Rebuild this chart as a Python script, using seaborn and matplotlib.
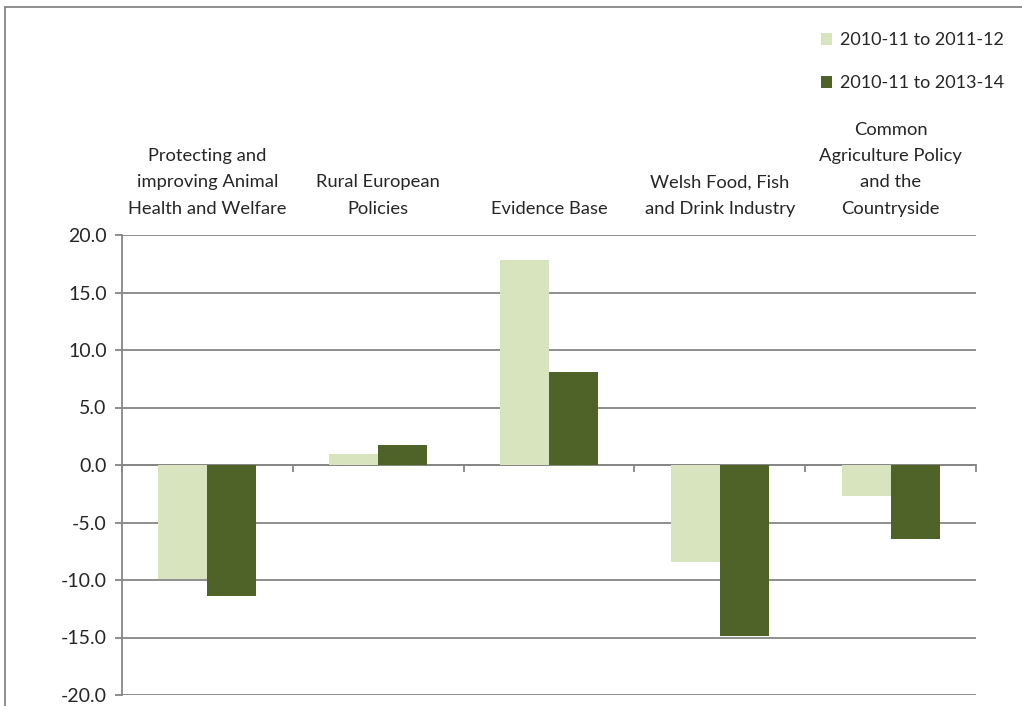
import pandas as pd
import matplotlib.pyplot as plt
import seaborn as sns
from matplotlib.lines import Line2D

# ===============================
# Data
# ===============================
categories = [
    "Protecting and\nimproving Animal\nHealth and Welfare",
    "Rural European\nPolicies",
    "Evidence Base",
    "Welsh Food, Fish\nand Drink Industry",
    "Common\nAgriculture Policy\nand the\nCountryside",
]
series_names = ["2010-11 to 2011-12", "2010-11 to 2013-14"]
change_2011_12 = [-9.9, 1.0, 17.8, -8.4, -2.7]
change_2013_14 = [-11.4, 1.7, 8.1, -14.9, -6.4]
y_ticks = [-20, -15, -10, -5, 0, 5, 10, 15, 20]

df = pd.DataFrame({
    "category": categories * 2,
    "period": [series_names[0]] * 5 + [series_names[1]] * 5,
    "value": change_2011_12 + change_2013_14,
})

# ===============================
# Style
# ===============================
sns.set_style("white")
plt.rcParams["font.family"] = ["Lato", "DejaVu Sans"]
grey = "#868686"
palette = {series_names[0]: "#D7E4BD", series_names[1]: "#4F6228"}

fig = plt.figure(figsize=(10.22, 7.06), dpi=100)
ax = fig.add_axes([122 / 1022, 1 - 695 / 706, (976 - 122) / 1022, (695 - 235) / 706])

sns.barplot(data=df, x="category", y="value", hue="period", palette=palette,
            width=0.573, saturation=1, linewidth=0, ax=ax)

# axes
ax.set_ylim(-20, 20)
ax.set_xlim(-0.5, len(categories) - 0.5)
ax.set_yticks(y_ticks, labels=[f"{v:.1f}" for v in y_ticks])
ax.set_xticks([i - 0.5 for i in range(len(categories) + 1)], labels=[])
ax.set_xlabel("")
ax.set_ylabel("")
ax.yaxis.grid(True, color=grey, linewidth=1.3)
ax.set_axisbelow(True)

for s in ["top", "right"]:
    ax.spines[s].set_visible(False)
ax.spines["left"].set_color(grey)
ax.spines["left"].set_linewidth(1.3)
ax.spines["bottom"].set_position(("data", 0))
ax.spines["bottom"].set_color(grey)
ax.spines["bottom"].set_linewidth(1.3)
ax.spines["bottom"].set_zorder(0.5)
ax.tick_params(axis="y", direction="out", length=5, width=1.3, color=grey,
               labelsize=14, pad=6, left=True)
ax.tick_params(axis="x", direction="out", length=5, width=1.3, color=grey, bottom=True)

# category labels above the plot
for i, label in enumerate(categories):
    ax.text(i, 1.04, label, transform=ax.get_xaxis_transform(), ha="center",
            va="bottom", fontsize=13.2, linespacing=1.78)

# legend top right
sns.move_legend(ax, loc="upper right", bbox_to_anchor=(1020 / 1022, 1 - 16 / 706),
                bbox_transform=fig.transFigure, frameon=False, title=None,
                fontsize=13, handlelength=0.65, handleheight=0.65,
                handletextpad=0.4, labelspacing=1.5)

# chart area border (left and top edges visible)
fig.add_artist(Line2D([5 / 1022, 5 / 1022], [-0.1, 1 - 7 / 706], color=grey,
                      linewidth=1.3, transform=fig.transFigure))
fig.add_artist(Line2D([5 / 1022, 1.1], [1 - 7 / 706, 1 - 7 / 706], color=grey,
                      linewidth=1.3, transform=fig.transFigure))

plt.savefig("out.png", dpi=100)
